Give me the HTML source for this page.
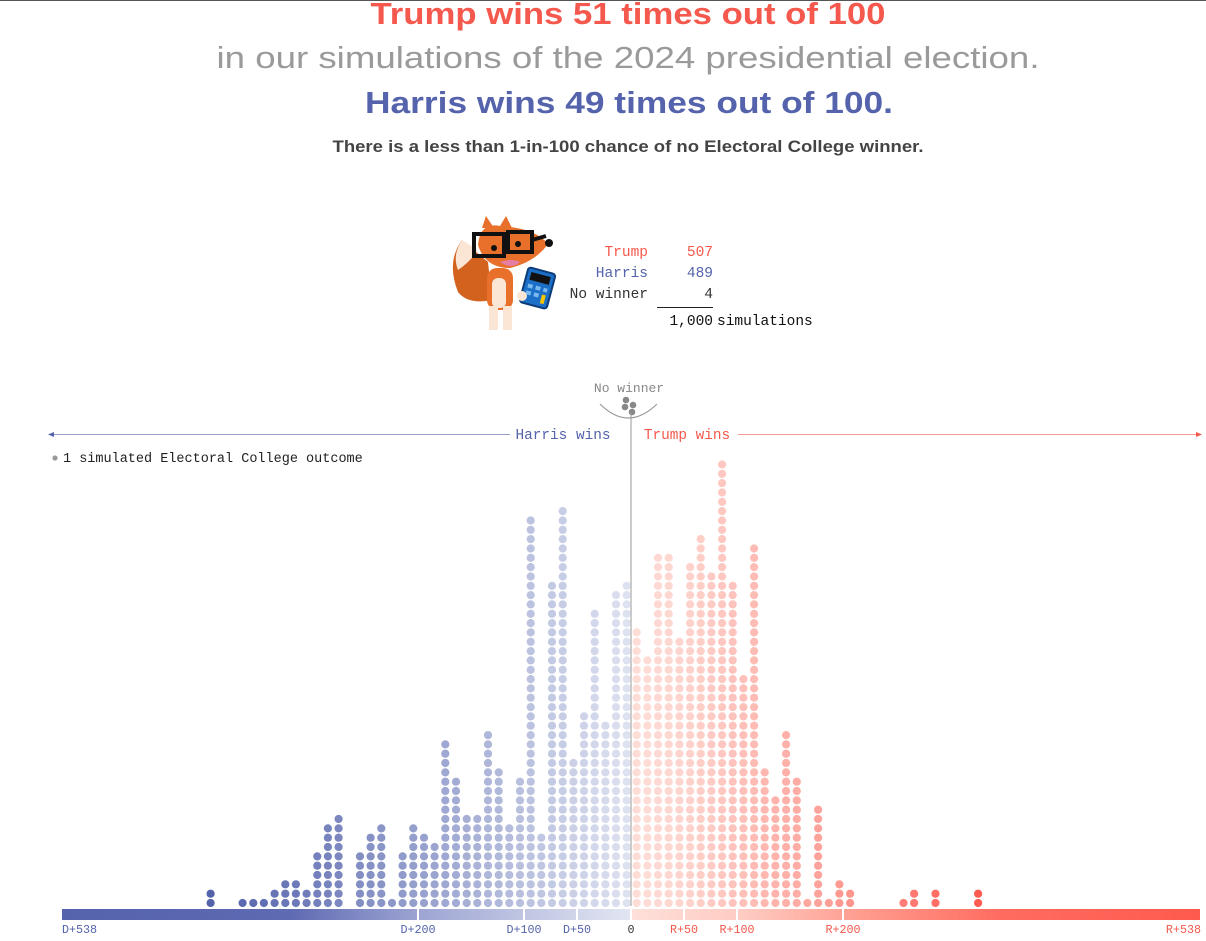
<!DOCTYPE html>
<html><head><meta charset="utf-8"><style>
html,body{margin:0;padding:0;background:#fff;width:1206px;height:941px;overflow:hidden}
svg{display:block}
.m{font-family:"Liberation Mono",monospace}
.s{font-family:"Liberation Sans",sans-serif}
</style></head><body>
<svg id="c" width="1206" height="941" viewBox="0 0 1206 941" xmlns="http://www.w3.org/2000/svg">
<line x1="0" y1="0.5" x2="1206" y2="0.5" stroke="#555" stroke-width="1"/>
<text class="s" x="628" y="24" text-anchor="middle" font-size="31" font-weight="bold" fill="#f5584c" textLength="515" lengthAdjust="spacingAndGlyphs">Trump wins 51 times out of 100</text>
<text class="s" x="628" y="68" text-anchor="middle" font-size="31" fill="#9a9a9a" textLength="823" lengthAdjust="spacingAndGlyphs">in our simulations of the 2024 presidential election.</text>
<text class="s" x="629" y="113" text-anchor="middle" font-size="31" font-weight="bold" fill="#5463ab" textLength="528" lengthAdjust="spacingAndGlyphs">Harris wins 49 times out of 100.</text>
<text class="s" x="628" y="152" text-anchor="middle" font-size="17" font-weight="bold" fill="#444" textLength="591" lengthAdjust="spacingAndGlyphs">There is a less than 1-in-100 chance of no Electoral College winner.</text>

<g>
<path d="M462 240 Q446 262 458 292 Q468 305 492 300 L488 262 Z" fill="#d4621f"/>
<path d="M462 240 Q452 255 458 270 Q470 262 478 250 Z" fill="#fbe6d5"/>
<rect x="487" y="268" width="26" height="42" rx="10" fill="#e8702a"/>
<rect x="492" y="278" width="14" height="30" rx="6" fill="#fbe6d5"/>
<rect x="489" y="306" width="9" height="24" fill="#fbe6d5"/>
<rect x="503" y="306" width="9" height="24" fill="#fbe6d5"/>
<path d="M478 245 Q480 222 500 226 Q535 228 548 244 Q535 262 510 268 Q485 268 478 245 Z" fill="#e8702a"/>
<path d="M482 228 L486 216 L494 228 Z" fill="#e8702a"/>
<path d="M500 226 L506 216 L512 228 Z" fill="#e8702a"/>
<path d="M500 262 Q512 270 520 262 Q512 258 500 262Z" fill="#e57ea5"/>
<rect x="474" y="234" width="30" height="22" fill="none" stroke="#111" stroke-width="4"/>
<rect x="508" y="232" width="24" height="20" fill="none" stroke="#111" stroke-width="4"/>
<line x1="532" y1="240" x2="546" y2="236" stroke="#111" stroke-width="4"/>
<circle cx="549" cy="243" r="4" fill="#111"/>
<circle cx="494" cy="248" r="3" fill="#111"/><circle cx="518" cy="244" r="3" fill="#111"/>
<g transform="rotate(15 537 290)"><rect x="523" y="270" width="28" height="36" rx="3" fill="#1b6fc7" stroke="#0d3c78" stroke-width="2"/>
<rect x="527" y="274" width="20" height="8" fill="#111"/>
<rect x="527" y="286" width="5" height="4" fill="#7ab8f0"/><rect x="535" y="286" width="5" height="4" fill="#7ab8f0"/><rect x="543" y="286" width="4" height="4" fill="#7ab8f0"/>
<rect x="527" y="293" width="5" height="4" fill="#7ab8f0"/><rect x="535" y="293" width="5" height="4" fill="#7ab8f0"/><rect x="543" y="293" width="4" height="9" fill="#f5c400"/></g>
<circle cx="522" cy="296" r="5" fill="#fbe6d5"/>
</g>

<g class="m" font-size="14.5">
<text x="648" y="256" text-anchor="end" fill="#f5584c">Trump</text>
<text x="713" y="256" text-anchor="end" fill="#f5584c">507</text>
<text x="648" y="277" text-anchor="end" fill="#5463ab">Harris</text>
<text x="713" y="277" text-anchor="end" fill="#5463ab">489</text>
<text x="648" y="298" text-anchor="end" fill="#333">No winner</text>
<text x="713" y="298" text-anchor="end" fill="#333">4</text>
<line x1="657" y1="307.5" x2="713" y2="307.5" stroke="#222"/>
<text x="713" y="325" text-anchor="end" fill="#111">1,000</text>
<text x="717" y="325" fill="#111">simulations</text>
</g>

<text class="m" x="629" y="392" text-anchor="middle" font-size="13" fill="#888">No winner</text>
<path d="M600 404 Q628 432 657 404" fill="none" stroke="#999" stroke-width="1.2"/>
<circle cx="626" cy="400" r="3.3" fill="#888"/><circle cx="633" cy="405" r="3.3" fill="#888"/><circle cx="625" cy="407" r="3.3" fill="#888"/><circle cx="632" cy="412" r="3.3" fill="#888"/>
<line x1="631" y1="412" x2="631" y2="906" stroke="#999" stroke-width="1"/>

<line x1="50" y1="434.5" x2="510" y2="434.5" stroke="#5463ab" stroke-width="1" opacity="0.6"/>
<path d="M48 434.5 L54 432 L54 437 Z" fill="#5463ab"/>
<line x1="738" y1="434.5" x2="1198" y2="434.5" stroke="#f5584c" stroke-width="1" opacity="0.6"/>
<path d="M1202 434.5 L1196 432 L1196 437 Z" fill="#f5584c"/>
<text class="m" x="563" y="439" text-anchor="middle" font-size="14.4" fill="#5463ab">Harris wins</text>
<text class="m" x="687" y="439" text-anchor="middle" font-size="14.4" fill="#f5584c">Trump wins</text>

<circle cx="55" cy="458" r="2.6" fill="#999"/>
<text class="m" x="63" y="462" font-size="13.5" fill="#222">1 simulated Electoral College outcome</text>

<defs>
<linearGradient id="gb" x1="62" x2="631" gradientUnits="userSpaceOnUse">
<stop offset="0" stop-color="#5563ad"/><stop offset="0.4" stop-color="#5e6ab2"/><stop offset="0.63" stop-color="#9ea5d3"/><stop offset="1" stop-color="#e2e6f2"/></linearGradient>
<linearGradient id="gr" x1="631" x2="1200" gradientUnits="userSpaceOnUse">
<stop offset="0" stop-color="#fee0da"/><stop offset="0.2" stop-color="#fecbc2"/><stop offset="0.4" stop-color="#ff9d90"/><stop offset="0.65" stop-color="#ff6c5f"/><stop offset="1" stop-color="#ff5a4e"/></linearGradient>
</defs>
<rect x="62" y="909" width="569" height="11" fill="url(#gb)"/>
<rect x="631" y="909" width="569" height="11" fill="url(#gr)"/>
<g fill="#fff">
<rect x="417" y="908" width="2" height="13"/><rect x="523" y="908" width="2" height="13"/><rect x="576" y="908" width="2" height="13"/><rect x="630" y="908" width="2" height="13"/><rect x="683" y="908" width="2" height="13"/><rect x="736" y="908" width="2" height="13"/><rect x="842" y="908" width="2" height="13"/>
</g>
<g class="m" font-size="11.7">
<text x="62" y="933" fill="#5463ab">D+538</text>
<text x="418" y="933" text-anchor="middle" fill="#5463ab">D+200</text>
<text x="524" y="933" text-anchor="middle" fill="#5463ab">D+100</text>
<text x="577" y="933" text-anchor="middle" fill="#5463ab">D+50</text>
<text x="631" y="933" text-anchor="middle" fill="#333">0</text>
<text x="684" y="933" text-anchor="middle" fill="#f5584c">R+50</text>
<text x="737" y="933" text-anchor="middle" fill="#f5584c">R+100</text>
<text x="843" y="933" text-anchor="middle" fill="#f5584c">R+200</text>
<text x="1201" y="933" text-anchor="end" fill="#f5584c">R+538</text>
</g>
<g id="dots"></g>
</svg>
<script>
(function(){
var blue=[35,34,20,32,21,16,43,35,8,42,14,9,15,19,10,10,14,18,7,8,9,6,1,9,8,6,0,10,9,6,2,3,3,2,1,1,1,0,0,2];
var red=[30,27,38,38,29,37,40,36,48,35,25,39,15,12,19,14,1,11,1,3,2,0,0,0,0,1,2,0,2,0,0,0,2];
function lerp(a,b,t){return Math.round(a+(b-a)*t);}
function col(c0,c1,t){t=Math.max(0,Math.min(1,t));return "rgb("+lerp(c0[0],c1[0],t)+","+lerp(c0[1],c1[1],t)+","+lerp(c0[2],c1[2],t)+")";}
var g=document.getElementById("dots"),h="";
function add(x,n,c){for(var k=0;k<n;k++){h+='<circle cx="'+x.toFixed(1)+'" cy="'+(903-k*9.33).toFixed(1)+'" r="4.1" fill="'+c+'"/>';}}
blue.forEach(function(n,j){var x=626.7-10.67*j;var t=Math.min(1,(631-x)/569/0.72);add(x,n,col([222,226,241],[84,99,172],t));});
red.forEach(function(n,i){var x=636.7+10.67*i;var t=Math.min(1,(x-631)/569/0.62);add(x,n,col([254,222,216],[255,88,78],Math.pow(t,1.3)));});
g.innerHTML=h;
})();
</script>
</body></html>
